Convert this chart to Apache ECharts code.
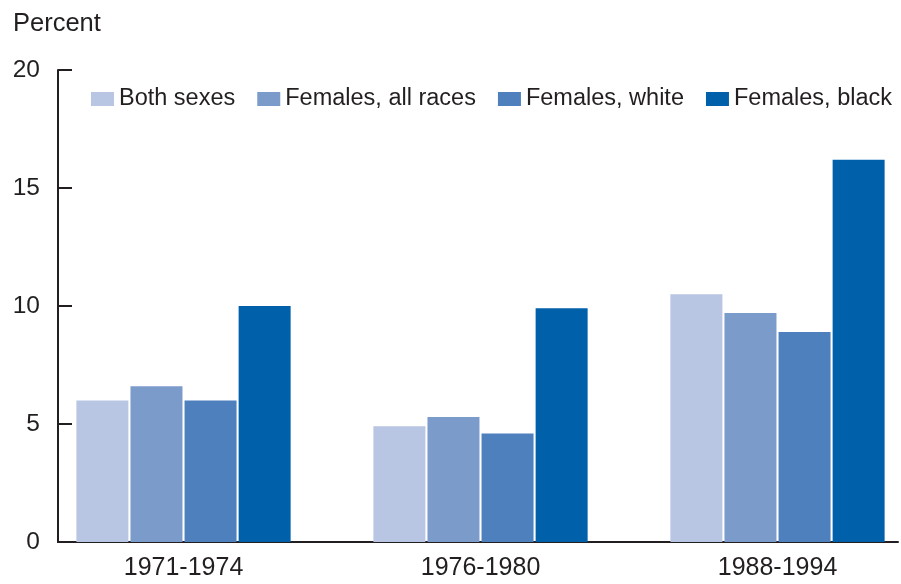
<!DOCTYPE html>
<html>
<head>
<meta charset="utf-8">
<script src="https://cdn.jsdelivr.net/npm/echarts@6/dist/echarts.min.js"></script>
<style>
  html, body { margin: 0; padding: 0; background: #fff; }
  #chart { width: 901px; height: 584px; }
</style>
</head>
<body>
<div id="chart"></div>
<script>
// periods on the x axis
const periods = ['1971-1974', '1976-1980', '1988-1994'];

// percent values per group
const bothSexes = [6.0, 4.9, 10.5];
const femalesAll = [6.6, 5.3, 9.7];
const femalesWhite = [6.0, 4.6, 8.9];
const femalesBlack = [10.0, 9.9, 16.2];

const yTicks = [0, 5, 10, 15, 20];

const TEXT = '#231f20';
const FONT = '"Liberation Sans", Arial, Helvetica, sans-serif';

const chart = echarts.init(document.getElementById('chart'), null, { renderer: 'canvas' });

// x is a value axis so the groups sit where they do in the picture;
// each bar's x is just the index of its period
function toPoints(values) {
  return values.map((v, i) => [i, v]);
}

function barSeries(name, values, color) {
  return {
    name: name,
    type: 'bar',
    data: toPoints(values),
    barWidth: 52,
    barGap: '4%',
    itemStyle: { color: color },
  };
}

const option = {
  animation: false,
  textStyle: { fontFamily: FONT },
  title: {
    text: 'Percent',
    left: 8,
    top: 6,
    textStyle: { color: TEXT, fontSize: 25.5, fontWeight: 'normal', fontFamily: FONT },
  },
  legend: {
    left: 91,
    right: 0,
    top: 87,
    padding: 0,
    itemWidth: 23,
    itemHeight: 14,
    itemGap: 22,
    icon: 'rect',
    textStyle: { color: TEXT, fontSize: 23.5, fontFamily: FONT },
    data: ['Both sexes', 'Females, all races', 'Females, white', 'Females, black'],
  },
  grid: { left: 58, right: 3, top: 70, bottom: 42, containLabel: false },
  xAxis: {
    type: 'value',
    min: -0.4226,
    max: 2.4057,
    splitLine: { show: false },
    axisLine: { show: true, onZero: false, lineStyle: { color: TEXT, width: 2 } },
    axisTick: { show: false },
    axisLabel: {
      customValues: [0, 1, 2],
      formatter: (v) => periods[Math.round(v)] || '',
      color: TEXT,
      fontSize: 25,
      fontFamily: FONT,
      margin: 14,
    },
  },
  yAxis: {
    type: 'value',
    min: yTicks[0],
    max: yTicks[yTicks.length - 1],
    interval: 5,
    splitLine: { show: false },
    axisLine: { show: true, onZero: false, lineStyle: { color: TEXT, width: 2 } },
    axisTick: { show: true, inside: true, length: 14, lineStyle: { color: TEXT, width: 2 } },
    axisLabel: { color: TEXT, fontSize: 24.5, fontFamily: FONT, margin: 18 },
  },
  series: [
    barSeries('Both sexes', bothSexes, '#b8c5e3'),
    barSeries('Females, all races', femalesAll, '#7b9bcb'),
    barSeries('Females, white', femalesWhite, '#4e80bd'),
    barSeries('Females, black', femalesBlack, '#0060aa'),
  ],
};

chart.setOption(option);
</script>
</body>
</html>
